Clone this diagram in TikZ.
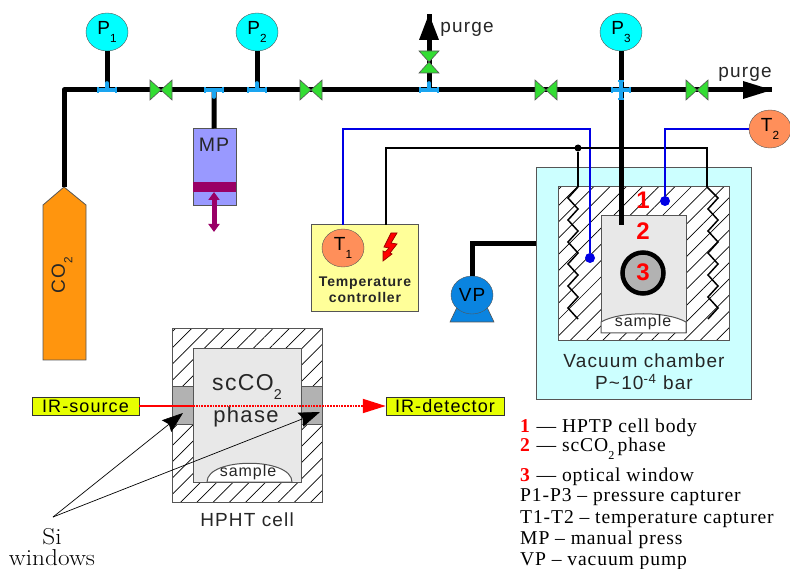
\documentclass[tikz,border=0pt]{standalone}
\usepackage{fontspec}
\setsansfont[LetterSpace=6]{Liberation Sans}
\newfontfamily\legendfont[LetterSpace=4.5]{Liberation Serif}
\usetikzlibrary{patterns.meta,arrows.meta,shapes.geometric}
\definecolor{gaugecyan}{HTML}{00FFFF}
\definecolor{sensororange}{HTML}{FF8F5A}
\definecolor{valvegreen}{HTML}{33DD33}
\definecolor{fittingblue}{HTML}{1AA5F0}
\definecolor{pressblue}{HTML}{9999FF}
\definecolor{pressbar}{HTML}{990066}
\definecolor{bottleorange}{HTML}{FF950E}
\definecolor{boxyellow}{HTML}{FFFF99}
\definecolor{tagyellow}{HTML}{E6FF00}
\definecolor{chambercyan}{HTML}{CCFFFF}
\definecolor{phasegray}{HTML}{E8E8E8}
\definecolor{windowgray}{HTML}{B2B2B2}
\definecolor{pumpblue}{HTML}{0A84E0}
\definecolor{edgegray}{HTML}{555555}
\newcommand{\subidx}[1]{\raisebox{-.4em}{\scalebox{.62}{#1}}}
\tikzset{
  gauge/.style={ellipse,draw=edgegray,fill=gaugecyan,minimum width=42,minimum height=38,inner sep=0,font=\sffamily\fontsize{19}{19}\selectfont},
  sensor/.style={gauge,fill=sensororange},
  pipe/.style={line width=5,black},
  wire/.style={line width=1.6,black},
  probe/.style={line width=1.6,blue!90!black},
  txt/.style={font=\sffamily\fontsize{19}{21}\selectfont,inner sep=0,align=center,text=black!85},
  tag/.style={draw=black!80,fill=tagyellow,minimum height=18,inner sep=0,font=\sffamily\fontsize{18}{18}\selectfont},
  legendline/.style={anchor=west,inner sep=0,font=\legendfont\fontsize{19.6}{19.6}\selectfont},
  hatched/.style={draw=edgegray,line width=1,preaction={fill=white},pattern={Lines[angle=45,distance=11.5,line width=0.7]}},
  panel/.style={draw=edgegray,line width=1},
  num/.style={text=red,inner sep=0,font=\sffamily\bfseries\fontsize{24}{24}\selectfont},
  probetip/.style={circle,fill=blue!90!black,minimum size=10,inner sep=0},
  sitext/.style={inner sep=0,xscale=1.1,transform shape,font=\rmfamily\fontsize{23}{23}\selectfont},
  valve/.pic={\draw[draw=edgegray,fill=valvegreen,line width=0.6] (-11,-10) -- (0,0) -- (-11,10) -- cycle (11,-10) -- (0,0) -- (11,10) -- cycle;},
  teefit/.pic={\draw[fittingblue,line width=3.6,line cap=round] (-8,0) -- (8,0) (0,0) -- (0,-7);
    \draw[fittingblue,line width=1.4] (-9,-3) -- (-9,3) (9,-3) -- (9,3);},
}
\begin{document}
\begin{tikzpicture}[x=1pt,y=-1pt]
  \useasboundingbox (0,0) rectangle (790,569);

  % named points along the main line
  \coordinate (corner) at (64,90);
  \coordinate (t1) at (107,90);
  \coordinate (t2) at (214,90);
  \coordinate (t3) at (257,90);
  \coordinate (t4) at (429,90);
  \coordinate (t5) at (621,90);
  \coordinate (end) at (772,90);
  \coordinate (purgetip) at (429,14);

  % vacuum chamber
  \node[panel,fill=chambercyan,minimum width=215,minimum height=231,inner sep=0] (chamber) at (643.5,283.5) {};
  \node[hatched,minimum width=171,minimum height=154,inner sep=0] (body) at (643.5,264) {};
  \node[panel,fill=phasegray,minimum width=85,minimum height=117,inner sep=0] (inner) at (643.5,274.5) {};
  \draw[panel,fill=white] (601,333) -- (601,322) .. controls (620,311) and (667,311) .. (686,322) -- (686,333) -- cycle;
  \node[circle,draw=black,line width=4.5,fill=windowgray,minimum size=41,inner sep=0] (window) at (643,273) {};
  \node[num] (n1) at (643,200) {1};
  \node[num] (n2) at (643,231) {2};
  \node[num] (n3) at (643,272) {3};
  \node[txt,font=\sffamily\fontsize{16}{16}\selectfont] (sampleA) at (643,322) {sample};
  \node[txt] (vaclabel) at (644,361) {Vacuum chamber};
  \node[txt] (plabel) at (644,382) {P\textasciitilde 10\textsuperscript{-4} bar};

  % CO2 bottle
  \draw[draw=edgegray,fill=bottleorange,line width=0.8] (43,205) -- (64,187) -- (86,205) -- (86,360) -- (43,360) -- cycle;
  \coordinate (bottletop) at (64,187);
  \node[txt,rotate=90] (co2) at (62,275) {CO\subidx{2}};

  % gauges
  \node[gauge] (P1) at (107,32) {P\subidx{1}};
  \node[gauge] (P2) at (257,32) {P\subidx{2}};
  \node[gauge] (P3) at (621,32) {P\subidx{3}};
  \node[sensor] (T2) at (770,129) {T\subidx{2}};

  % manual press
  \node[panel,fill=pressblue,minimum width=43,minimum height=77,inner sep=0] (MP) at (214.5,167.5) {};
  \node[fill=pressbar,minimum width=43,minimum height=10,inner sep=0] (bar) at (214.5,187) {};
  \node[txt,font=\sffamily\fontsize{19.5}{19.5}\selectfont] (mplabel) at (214,145) {MP};
  \coordinate (mpb) at (214,192);
  \coordinate (mpc) at (214,232);
  \draw[{Triangle[length=8,width=11]}-{Triangle[length=8,width=11]},draw=pressbar,fill=pressbar,line width=5] (mpb) -- (mpc);

  % pipes
  \draw[pipe,line join=round] (bottletop) -- (corner) -- (end);
  \draw[pipe] (P1) -- (t1);
  \draw[pipe] (P2) -- (t3);
  \draw[pipe] (t2) -- (MP);
  \draw[pipe] (t4) -- (purgetip);
  \coordinate (stemend) at (621,225);
  \draw[pipe] (P3) -- (stemend);
  \fill (purgetip) -- ++(10,26) -- ++(-20,0) -- cycle;
  \fill (end) ++(0,0) -- ++(-29,9) -- ++(0,-18) -- cycle;
  \node[txt] (purgeA) at (467,29) {purge};
  \node[txt] (purgeB) at (745,74) {purge};

  % valves and fittings
  \foreach \vx in {161,311,546,697}
    \pic at (\vx,90) {valve};
  \pic[rotate=90] at (429,62) {valve};
  \foreach \tx in {107,257,429}
    \pic at (\tx,90) {teefit};
  \pic[yscale=-1] at (214,90) {teefit};
  \pic at (621,90) {teefit};
  \pic[yscale=-1] at (621,90) {teefit};
  \pic[rotate=90] at (621,90) {teefit};

  % temperature controller
  \node[panel,fill=boxyellow,minimum width=107,minimum height=87,inner sep=0] (ctrl) at (364.5,268.5) {};
  \node[sensor] (T1) at (343,248) {T\subidx{1}};
  \draw[draw=red!60!black,fill=red,line width=0.7] (391,233) -- (384,247) -- (389,248) -- (385,252) -- (383,251) -- (383,261) -- (392,254) -- (390,253) -- (397,244) -- (391,243) -- (397,233) -- cycle;
  \node[txt,font=\sffamily\bfseries\fontsize{14}{16}\selectfont] (ctrllabel) at (365,290) {Temperature\\controller};

  % wires to the heaters
  \coordinate (c1) at (343,225);
  \coordinate (c2) at (343,129);
  \coordinate (c3) at (590,129);
  \node[probetip] (tipA) at (590,258) {};
  \draw[probe] (c1) -- (c2) -- (c3) -- (tipA);
  \coordinate (h1) at (386,225);
  \coordinate (h2) at (386,148);
  \coordinate (h3) at (707,148);
  \coordinate (h4) at (707,187);
  \coordinate (h5) at (578,187);
  \node[circle,fill=black,minimum size=7,inner sep=0] (junction) at (578,148) {};
  \draw[wire] (h1) -- (h2) -- (h3) -- (h4);
  \draw[wire] (junction) -- (h5);
  \draw[line width=1.5,line join=miter] (h5) foreach \i in {0,...,5} { -- (568,{198+22*\i}) -- (578,{209+22*\i}) };
  \draw[line width=1.5,line join=miter] (h4) foreach \i in {0,...,5} { -- (718,{198+22*\i}) -- (708,{209+22*\i}) };
  \coordinate (d1) at (665,129);
  \node[probetip] (tipB) at (665,201) {};
  \draw[probe] (T2) -- (d1) -- (tipB);

  % vacuum pump
  \draw[draw=edgegray,fill=pumpblue,line width=0.6] (450,322) -- (459,303) -- (485,303) -- (494,322) -- cycle;
  \node[gauge,fill=pumpblue] (VP) at (472,295) {VP};
  \coordinate (v1) at (472,244);
  \coordinate (v2) at (536,244);
  \draw[pipe,line join=miter] (VP) -- (v1) -- (v2);

  % HPHT cell
  \node[hatched,minimum width=150,minimum height=173,inner sep=0] (cell) at (247,415.5) {};
  \node[panel,fill=phasegray,minimum width=108,minimum height=133,inner sep=0] (cellin) at (247,415.5) {};
  \node[panel,fill=windowgray,minimum width=21,minimum height=38,inner sep=0] (winL) at (182.5,405) {};
  \node[panel,fill=windowgray,minimum width=21,minimum height=38,inner sep=0] (winR) at (311.5,405) {};
  \draw[panel,fill=white] (207,482) .. controls (207,457) and (292,457) .. (292,482) -- cycle;
  \node[txt,font=\sffamily\fontsize{16}{16}\selectfont] (sampleB) at (248,472) {sample};
  \node[txt,font=\sffamily\fontsize{23}{23}\selectfont] (sc) at (247,387) {scCO\subidx{2}};
  \node[txt,font=\sffamily\fontsize{22}{22}\selectfont] (phase) at (246,417) {phase};
  \node[txt] (celllabel) at (247,520) {HPHT cell};

  % IR beam
  \node[tag,minimum width=107] (src) at (85.5,406) {IR-source};
  \node[tag,minimum width=118] (det) at (445,406) {IR-detector};
  \coordinate (beam) at (193,406);
  \draw[red,line width=1.8] (src) -- (beam);
  \draw[red,line width=1.8,densely dotted,-{Triangle[length=23,width=14]}] (beam) -- (det);

  % Si windows
  \coordinate (si) at (53,517);
  \coordinate (siL) at (183,413);
  \coordinate (siR) at (320,412);
  \draw[line width=0.7,-{Stealth[length=21,width=15,inset=3]}] (si) -- (siL);
  \draw[line width=0.7,-{Stealth[length=21,width=15,inset=3]}] (si) -- (siR);
  \node[sitext] (silabel) at (52,537) {Si};
  \node[sitext] (winlabel) at (52,558) {windows};

  % legend
  \node[legendline] (l1) at (520,428) {\textcolor{red}{\textbf{1}} — HPTP cell body};
  \node[legendline] (l2) at (520,449) {\textcolor{red}{\textbf{2}} — scCO\subidx{2}\,phase};
  \node[legendline] (l3) at (520,477) {\textcolor{red}{\textbf{3}} — optical window};
  \node[legendline] (l4) at (520,497) {P1-P3 – pressure capturer};
  \node[legendline] (l5) at (520,519) {T1-T2 – temperature capturer};
  \node[legendline] (l6) at (520,540) {MP – manual press};
  \node[legendline] (l7) at (520,561) {VP – vacuum pump};
\end{tikzpicture}
\end{document}
